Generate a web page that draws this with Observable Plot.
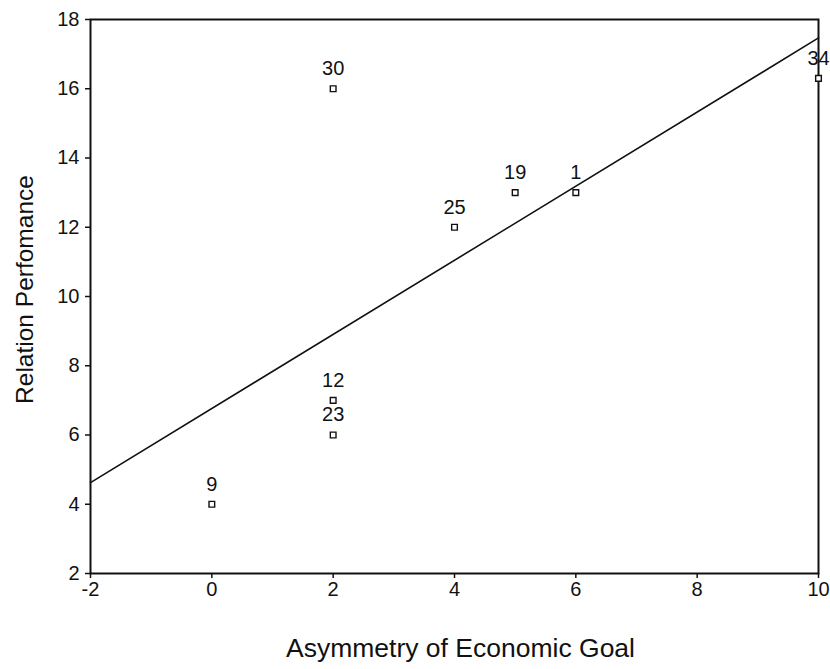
<!DOCTYPE html>
<html>
<head>
<meta charset="utf-8">
<script src="https://cdn.jsdelivr.net/npm/d3@7"></script>
<script src="https://cdn.jsdelivr.net/npm/@observablehq/plot@0.6"></script>
<style>
  html, body { margin: 0; padding: 0; background: #fff; }
  #chart svg { display: block; }
</style>
</head>
<body>
<div id="chart"></div>
<script>
// Data
const caseIds   = ["9", "12", "23", "30", "25", "19", "1", "34"];
const asymmetry = [0, 2, 2, 2, 4, 5, 6, 10];
const perform   = [4, 7, 6, 16, 12, 13, 13, 16.3];
const xTicks = [-2, 0, 2, 4, 6, 8, 10];
const yTicks = [2, 4, 6, 8, 10, 12, 14, 16, 18];
const xTitle = "Asymmetry of Economic Goal";
const yTitle = "Relation Perfomance";

const data = caseIds.map((id, i) => ({id, x: asymmetry[i], y: perform[i]}));

// Ordinary least squares fit of the data
const mx = d3.mean(asymmetry), my = d3.mean(perform);
const sxy = d3.sum(data, d => (d.x - mx) * (d.y - my));
const sxx = d3.sum(data, d => (d.x - mx) ** 2);
const slope = sxy / sxx, intercept = my - slope * mx;
const xDomain = [-2, 10];
const fit = xDomain.map(x => ({x, y: intercept + slope * x}));

const font = "'Liberation Sans', Arial, Helvetica, sans-serif";
const fmt = d => `${d}`;

const chart = Plot.plot({
  width: 830,
  height: 669,
  marginLeft: 90,
  marginRight: 12,
  marginTop: 19,
  marginBottom: 96,
  style: {fontFamily: font, color: "#111", background: "#fff"},
  x: {domain: xDomain},
  y: {domain: [2, 18]},
  marks: [
    Plot.frame({stroke: "#111", strokeWidth: 2}),
    Plot.axisX({ticks: xTicks, tickFormat: fmt, tickSize: 5, tickPadding: 3, fontSize: 20, label: null, stroke: "#111", strokeWidth: 1.5}),
    Plot.axisY({ticks: yTicks, tickFormat: fmt, tickSize: 5, tickPadding: 6, fontSize: 20, label: null, stroke: "#111", strokeWidth: 1.5}),
    Plot.text([xTitle], {frameAnchor: "bottom", textAnchor: "middle", dy: 83, dx: 6, fontSize: 26.5, fill: "#111"}),
    Plot.text([yTitle], {frameAnchor: "left", textAnchor: "middle", dx: -65, dy: -7, rotate: -90, fontSize: 24.5, fill: "#111"}),
    Plot.line(fit, {x: "x", y: "y", stroke: "#111", strokeWidth: 1.6}),
    Plot.dot(data, {x: "x", y: "y", symbol: "square", r: 3.2, stroke: "#111", strokeWidth: 1.4, fill: "#fff"}),
    Plot.text(data, {x: "x", y: "y", text: "id", dy: -20, fontSize: 20, fill: "#111"})
  ]
});

document.getElementById("chart").appendChild(chart);
</script>
</body>
</html>
